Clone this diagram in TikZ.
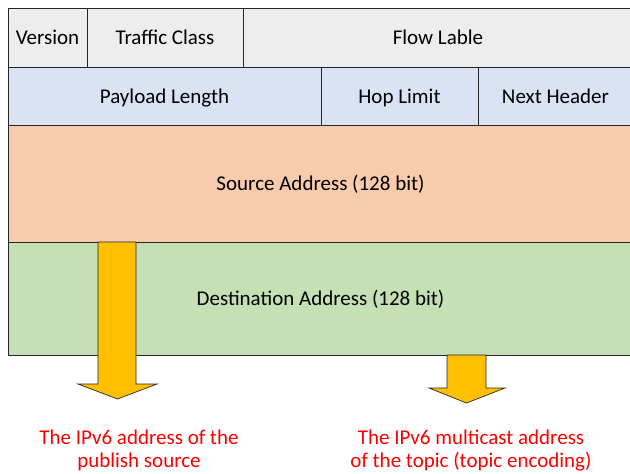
\documentclass[tikz,border=0pt]{standalone}
\usepackage{fontspec}
\setmainfont{Carlito}
\definecolor{rowgray}{HTML}{EDEDED}
\definecolor{rowblue}{HTML}{DAE3F3}
\definecolor{rowpeach}{HTML}{F8CBAD}
\definecolor{rowgreen}{HTML}{C5E0B4}
\definecolor{arrowgold}{HTML}{FFC000}
\definecolor{edgegray}{HTML}{262626}
\begin{document}
\begin{tikzpicture}[x=1pt,y=-1pt,
  cell/.style={draw=edgegray, line width=0.9pt, inner sep=0pt, text height=14pt, text depth=0pt,
    font=\fontsize{21}{25}\selectfont, anchor=center},
  fatarrow/.style={fill=arrowgold, draw=edgegray, line width=0.7pt, line join=miter},
  note/.style={text=red, align=center, font=\fontsize{21}{23.5}\selectfont, inner sep=0pt}]
\useasboundingbox (0,0) rectangle (630,474);
\fill[white] (0,0) rectangle (630,474);
% first header row
\node[cell, fill=rowgray, minimum width=79, minimum height=59] (ver) at (47.5,37.5) {Version};
\node[cell, fill=rowgray, minimum width=156, minimum height=59] (tc) at (165,37.5) {Traffic Class};
\node[cell, fill=rowgray, minimum width=390, minimum height=59] (fl) at (438,37.5) {Flow Lable};
% second header row
\node[cell, fill=rowblue, minimum width=313, minimum height=58] (pl) at (164.5,96) {Payload Length};
\node[cell, fill=rowblue, minimum width=157, minimum height=58] (hop) at (399.5,96) {Hop Limit};
\node[cell, fill=rowblue, minimum width=155, minimum height=58] (nh) at (555.5,96) {Next Header};
% address fields
\node[cell, fill=rowpeach, minimum width=625, minimum height=117] (src) at (320.5,183.5) {Source Address (128 bit)};
\node[cell, fill=rowgreen, minimum width=625, minimum height=113] (dst) at (320.5,298.5) {Destination Address (128 bit)};
% block arrows
\draw[fatarrow] (98,242) -- (136,242) -- (136,384) -- (157,384) -- (117.5,399) -- (78,384) -- (98,384) -- cycle;
\draw[fatarrow] (447,355) -- (486,355) -- (486,388) -- (505,388) -- (466.5,403) -- (429,388) -- (447,388) -- cycle;
% captions
\node[note] (capsrc) at (139,450.5) {The IPv6 address of the\\publish source};
\node[note] (capdst) at (471,450.5) {The IPv6 multicast address\\of the topic (topic encoding)};
\end{tikzpicture}
\end{document}
